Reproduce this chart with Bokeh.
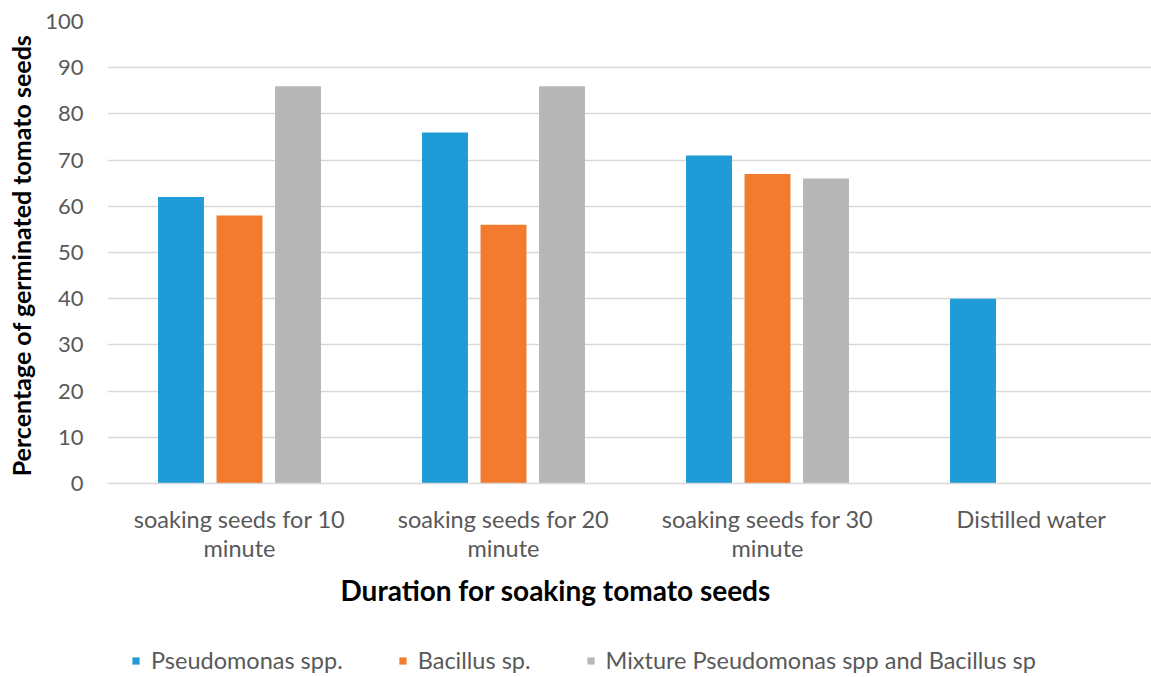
from bokeh.plotting import figure
from bokeh.layouts import column
from bokeh.models import ColumnDataSource, Legend, LegendItem, FixedTicker, Range1d, Title
from bokeh.transform import dodge
from bokeh.embed import file_html
from bokeh.resources import INLINE

categories = ["soaking seeds for 10 minute", "soaking seeds for 20 minute",
              "soaking seeds for 30 minute", "Distilled water"]
tick_labels = ["soaking seeds for 10\nminute", "soaking seeds for 20\nminute",
               "soaking seeds for 30\nminute", "Distilled water"]
series_names = ["Pseudomonas spp.", "Bacillus sp.", "Mixture Pseudomonas spp and Bacillus sp"]
pseudomonas = [62, 76, 71, 40]
bacillus = [58, 56, 67, float("nan")]
mixture = [86, 86, 66, float("nan")]
y_ticks = list(range(0, 101, 10))

colors = ["#1F9BD7", "#F27B30", "#B7B7B7"]
FONT = "Lato"
GREY = "#595959"

idx = list(range(len(categories)))
src = ColumnDataSource(dict(idx=idx, cat=categories, p=pseudomonas, b=bacillus, m=mixture))
offs = [-0.2216, 0.0, 0.2216]

p = figure(width=1151, height=640, output_backend="svg", toolbar_location=None,
           x_range=Range1d(-0.5, 3.4545), y_range=Range1d(0, 100),
           min_border_left=107, min_border_right=0, min_border_top=21, min_border_bottom=157)
p.outline_line_color = None

for col, off, c in zip(["p", "b", "m"], offs, colors):
    p.vbar(x=dodge("idx", off), top=col, width=0.174, bottom=0, source=src,
           fill_color=c, line_color=None)

# grid
p.xgrid.grid_line_color = None
p.ygrid.grid_line_color = "#D9D9D9"
p.ygrid.grid_line_width = 1.5
p.ygrid.ticker = FixedTicker(ticks=y_ticks)

# y axis
p.yaxis.ticker = FixedTicker(ticks=y_ticks)
p.yaxis.axis_line_color = None
p.yaxis.major_tick_line_color = None
p.yaxis.minor_tick_line_color = None
p.yaxis.major_tick_out = 0
p.yaxis.major_label_standoff = 24
p.yaxis.major_label_text_font = FONT
p.yaxis.major_label_text_font_size = "22px"
p.yaxis.major_label_text_color = GREY
p.yaxis.axis_label = "Percentage of germinated  tomato seeds"
p.yaxis.axis_label_text_font = FONT
p.yaxis.axis_label_text_font_style = "bold"
p.yaxis.axis_label_text_font_size = "25px"
p.yaxis.axis_label_text_color = "black"
p.yaxis.axis_label_standoff = 6

# x axis
p.xaxis.ticker = FixedTicker(ticks=idx)
p.xaxis.major_label_overrides = {i: t for i, t in zip(idx, tick_labels)}
p.xaxis.axis_line_color = "#D9D9D9"
p.xaxis.axis_line_width = 1.5
p.xaxis.major_tick_line_color = None
p.xaxis.minor_tick_line_color = None
p.xaxis.major_tick_out = 0
p.xaxis.major_label_standoff = 21
p.xaxis.major_label_text_font = FONT
p.xaxis.major_label_text_font_size = "23.5px"
p.xaxis.major_label_text_color = GREY
p.xaxis.major_label_text_line_height = 1.07

xtitle = Title(text="Duration  for soaking tomato seeds", text_font=FONT, text_font_style="bold",
               text_font_size="28px", text_color="black", align="left", offset=233, standoff=10)
p.add_layout(xtitle, "below")

# legend strip (its own small figure; swatches come from bars that lie outside its view)
pl = figure(width=1151, height=37, output_backend="svg", toolbar_location=None,
            x_range=Range1d(1000.5, 2151.5), y_range=Range1d(1000, 1037),
            x_axis_location=None, y_axis_location=None,
            min_border_left=0, min_border_right=0, min_border_top=0, min_border_bottom=0)
pl.outline_line_color = None
pl.xgrid.grid_line_color = None
pl.ygrid.grid_line_color = None
pl.grid.visible = False
leg_renderers = []
for col, off, c in zip(["p", "b", "m"], offs, colors):
    r = pl.vbar(x=dodge("idx", off), top=col, width=0.174, bottom=0, source=src,
                fill_color=c, line_color=None)
    leg_renderers.append(r)

legend = Legend(items=[LegendItem(label=n, renderers=[r]) for n, r in zip(series_names, leg_renderers)],
                orientation="horizontal", location=(24, 3),
                label_text_font=FONT, label_text_font_size="23.5px", label_text_color=GREY,
                glyph_width=9, glyph_height=9, label_standoff=11, spacing=55,
                border_line_color=None, background_fill_alpha=0, margin=0, padding=0)
pl.add_layout(legend, "center")

layout = column(p, pl, spacing=0)
open("out.html", "w").write(file_html(layout, INLINE))
